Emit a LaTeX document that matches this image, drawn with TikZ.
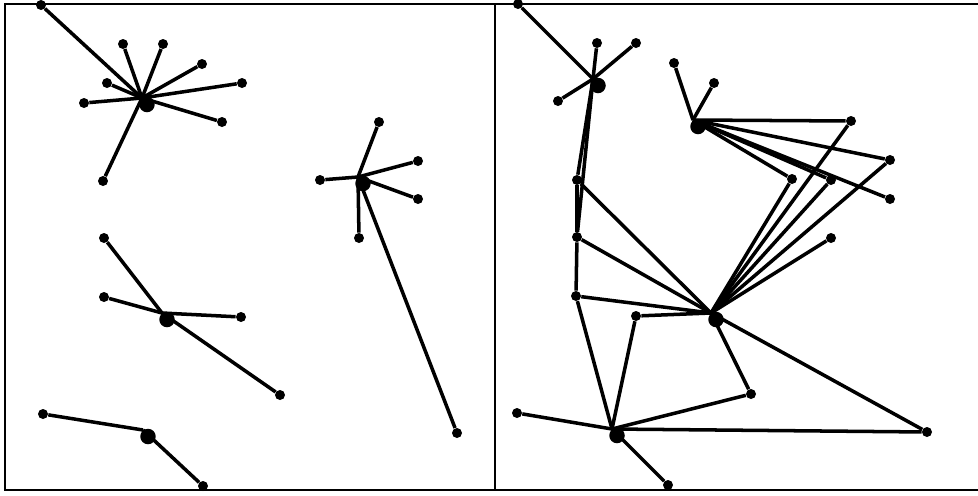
\documentclass[tikz,border=0pt]{standalone}
\usepackage{tikz}
\usetikzlibrary{positioning}

\begin{document}
\begin{tikzpicture}[
  x=0.02cm, y=-0.02cm,
  dot/.style={circle, fill=black, inner sep=0pt, minimum size=0.2cm},
  bigdot/.style={circle, fill=black, inner sep=0pt, minimum size=0.31cm},
  hub/.style={coordinate, label={[bigdot, xshift=0.1cm, yshift=-0.13cm]center:{}}},
  edge/.style={black, line width=2pt},
  frame/.style={black, line width=1.6pt}]
\useasboundingbox (0,0) rectangle (978,495);
% panels
\draw[frame] (978,4) -- (5,4) -- (5,490) -- (978,490);
\draw[frame] (495,4) -- (495,490);
% left panel
\node[dot] (t0) at (41,5) {};
\node[hub] (A) at (142,98) {};
\node[dot] (a1) at (123,44) {}; \node[dot] (a2) at (163,44) {};
\node[dot] (a3) at (202,64) {}; \node[dot] (a4) at (242,83) {};
\node[dot] (a5) at (107,83) {}; \node[dot] (a6) at (84,103) {};
\node[dot] (a7) at (222,122) {}; \node[dot] (a8) at (103,181) {};
\node[hub] (B) at (358,177) {};
\node[dot] (b1) at (379,122) {}; \node[dot] (b2) at (418,161) {};
\node[dot] (b3) at (418,199) {}; \node[dot] (b4) at (320,180) {};
\node[dot] (b5) at (359,238) {}; \node[dot] (b6) at (457,433) {};
\node[hub] (C) at (162,313) {};
\node[dot] (c1) at (104,238) {}; \node[dot] (c2) at (104,297) {};
\node[dot] (c3) at (241,317) {}; \node[dot] (c4) at (280,395) {};
\node[hub] (D) at (143,430) {};
\node[dot] (d1) at (43,414) {}; \node[dot] (d2) at (203,486) {};
\foreach \n in {t0,a1,a2,a3,a4,a5,a6,a7,a8} \draw[edge] (A) -- (\n);
\foreach \n in {b1,b2,b3,b4,b5,b6} \draw[edge] (B) -- (\n);
\foreach \n in {c1,c2,c3,c4} \draw[edge] (C) -- (\n);
\foreach \n in {d1,d2} \draw[edge] (D) -- (\n);
% right panel
\node[dot] (u0) at (518,4) {};
\node[hub] (R1) at (593,79) {};
\node[dot] (r1) at (597,43) {}; \node[dot] (r2) at (636,43) {};
\node[dot] (r3) at (558,101) {};
\node[hub] (R2) at (693,120) {};
\node[dot] (s1) at (674,63) {}; \node[dot] (s2) at (714,83) {};
\node[dot] (s3) at (851,121) {}; \node[dot] (s4) at (890,160) {};
\node[dot] (s5) at (890,199) {}; \node[dot] (s6) at (792,179) {};
\node[dot] (s7) at (831,180) {};
\node[hub] (R3) at (711,313) {};
\node[dot] (p1) at (577,180) {}; \node[dot] (p2) at (577,237) {};
\node[dot] (p3) at (576,296) {}; \node[dot] (p4) at (636,316) {};
\node[dot] (p5) at (751,394) {}; \node[dot] (p6) at (831,238) {};
\node[dot] (p7) at (927,432) {};
\node[hub] (R4) at (612,429) {};
\node[dot] (q1) at (517,413) {}; \node[dot] (q2) at (668,485) {};
\foreach \n in {u0,r1,r2,r3,p1,p2} \draw[edge] (R1) -- (\n);
\draw[edge] (p1) -- (p2); \draw[edge] (p2) -- (p3);
\foreach \n in {s1,s2,s3,s4,s5,s6,s7} \draw[edge] (R2) -- (\n);
\foreach \n in {s3,s4,s6,s7,p6,p1,p2,p3,p4,p5,p7} \draw[edge] (R3) -- (\n);
\foreach \n in {p3,p4,p5,p7,q1,q2} \draw[edge] (R4) -- (\n);
\end{tikzpicture}
\end{document}
